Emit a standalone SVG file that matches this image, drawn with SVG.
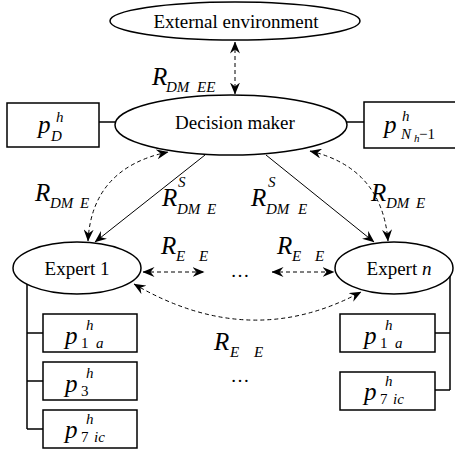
<svg xmlns="http://www.w3.org/2000/svg" width="455" height="451" viewBox="0 0 455 451">
<defs>
<style>
.node{fill:#fff;stroke:#000;stroke-width:1.5}
.box{fill:#fff;stroke:#000;stroke-width:1.5}
.ln{fill:none;stroke:#000;stroke-width:1.5}
.sol{fill:none;stroke:#000;stroke-width:1}
.dash{fill:none;stroke:#000;stroke-width:1;stroke-dasharray:4 3}
.lbl{font-family:"Liberation Serif","Times New Roman",serif;font-size:19px;fill:#000}
.m{font-family:"Liberation Serif","Times New Roman",serif;font-style:italic;font-size:25px;fill:#000}
.s{font-size:15px}
.ss{font-size:11px}
</style>
<marker id="ah" viewBox="0 0 12 10" refX="11.5" refY="5" markerWidth="12" markerHeight="10" markerUnits="userSpaceOnUse" orient="auto-start-reverse">
<path d="M0,0 L12,5 L0,10 L4,5 z" fill="#000"/>
</marker>
</defs>
<rect width="455" height="451" fill="#fff"/>

<g id="connectors">
<path class="dash" d="M235,42 L235,94" marker-start="url(#ah)" marker-end="url(#ah)"/>
<path class="ln" d="M99,122 L115,122"/>
<path class="ln" d="M347,122 L364,122"/>
<path class="sol" d="M205,155 L95,242" marker-end="url(#ah)"/>
<path class="sol" d="M266,155 L374,242" marker-end="url(#ah)"/>
<path class="dash" d="M88,241 Q92,168 168,152" marker-start="url(#ah)" marker-end="url(#ah)"/>
<path class="dash" d="M310,151 Q382,168 388,241" marker-start="url(#ah)" marker-end="url(#ah)"/>
<path class="dash" d="M143,272 L204,272" marker-start="url(#ah)" marker-end="url(#ah)"/>
<path class="dash" d="M272,272 L334,272" marker-start="url(#ah)" marker-end="url(#ah)"/>
<path class="dash" d="M134,284 Q250,352 361,292" marker-start="url(#ah)" marker-end="url(#ah)"/>
<path class="ln" d="M27,284 L27,429 M27,333 L43,333 M27,381 L43,381 M27,429 L43,429"/>
<path class="ln" d="M450,276 L450,390 M435,333 L450,333 M435,390 L450,390"/>
</g>

<g id="external-environment">
<ellipse class="node" cx="235" cy="21" rx="125" ry="19"/>
<text class="lbl" x="236" y="28" text-anchor="middle">External environment</text>
</g>

<g id="decision-maker">
<ellipse class="node" cx="231" cy="125" rx="116" ry="30"/>
<text class="lbl" x="235" y="129" text-anchor="middle">Decision maker</text>
</g>

<g id="expert-1">
<ellipse class="node" cx="77" cy="268" rx="64" ry="26"/>
<text class="lbl" x="77" y="275" text-anchor="middle">Expert 1</text>
</g>

<g id="expert-n">
<ellipse class="node" cx="394" cy="268" rx="59" ry="26"/>
<text class="lbl" x="399" y="275" text-anchor="middle">Expert <tspan font-style="italic">n</tspan></text>
</g>

<g id="p-D">
<rect class="box" x="7" y="103" width="92" height="44"/>
<text class="m"><tspan x="38" y="133">p</tspan><tspan class="s" x="56" y="122">h</tspan><tspan class="s" x="51" y="141">D</tspan></text>
</g>

<g id="p-Nh-1">
<rect class="box" x="364" y="102" width="95" height="46"/>
<text class="m"><tspan x="384" y="133">p</tspan><tspan class="s" x="402" y="121">h</tspan><tspan class="s" x="401" y="139">N</tspan><tspan class="ss" x="414" y="142">h</tspan><tspan class="s" font-style="normal" x="419" y="139">−1</tspan></text>
</g>

<g id="expert1-p1a">
<rect class="box" x="43" y="314" width="94" height="38"/>
<text class="m"><tspan x="65" y="344">p</tspan><tspan class="s" x="86" y="330">h</tspan><tspan class="s" font-style="normal" x="81" y="348">1</tspan><tspan class="s" x="96" y="348">a</tspan></text>
</g>

<g id="expert1-p3">
<rect class="box" x="43" y="362" width="94" height="38"/>
<text class="m"><tspan x="65" y="392">p</tspan><tspan class="s" x="86" y="378">h</tspan><tspan class="s" font-style="normal" x="81" y="396">3</tspan></text>
</g>

<g id="expert1-p7ic">
<rect class="box" x="43" y="410" width="94" height="38"/>
<text class="m"><tspan x="65" y="438">p</tspan><tspan class="s" x="86" y="424">h</tspan><tspan class="s" font-style="normal" x="81" y="442">7</tspan><tspan class="s" x="94" y="442">ic</tspan></text>
</g>

<g id="expertn-p1a">
<rect class="box" x="340" y="314" width="95" height="38"/>
<text class="m"><tspan x="364" y="344">p</tspan><tspan class="s" x="385" y="330">h</tspan><tspan class="s" font-style="normal" x="380" y="348">1</tspan><tspan class="s" x="395" y="348">a</tspan></text>
</g>

<g id="expertn-p7ic">
<rect class="box" x="340" y="372" width="95" height="38"/>
<text class="m"><tspan x="364" y="400">p</tspan><tspan class="s" x="385" y="386">h</tspan><tspan class="s" font-style="normal" x="380" y="404">7</tspan><tspan class="s" x="393" y="404">ic</tspan></text>
</g>

<g id="labels">
<text class="m" font-size="24"><tspan x="152" y="85">R</tspan><tspan class="s" x="166" y="92">DM</tspan><tspan class="s" x="197" y="92">EE</tspan></text>
<text class="m" font-size="24"><tspan x="35" y="201">R</tspan><tspan class="s" x="50" y="208">DM</tspan><tspan class="s" x="80" y="208">E</tspan></text>
<text class="m" font-size="24"><tspan x="162" y="206">R</tspan><tspan class="s" x="178" y="187">S</tspan><tspan class="s" x="177" y="214">DM</tspan><tspan class="s" x="207" y="214">E</tspan></text>
<text class="m" font-size="24"><tspan x="251" y="206">R</tspan><tspan class="s" x="268" y="187">S</tspan><tspan class="s" x="266" y="214">DM</tspan><tspan class="s" x="298" y="214">E</tspan></text>
<text class="m" font-size="24"><tspan x="371" y="201">R</tspan><tspan class="s" x="386" y="208">DM</tspan><tspan class="s" x="416" y="208">E</tspan></text>
<text class="m" font-size="24"><tspan x="161" y="254">R</tspan><tspan class="s" x="176" y="261">E</tspan><tspan class="s" x="199" y="261">E</tspan></text>
<text class="m" font-size="24"><tspan x="277" y="254">R</tspan><tspan class="s" x="292" y="261">E</tspan><tspan class="s" x="315" y="261">E</tspan></text>
<text class="m" font-size="24"><tspan x="214" y="350">R</tspan><tspan class="s" x="230" y="357">E</tspan><tspan class="s" x="254" y="357">E</tspan></text>
<text class="lbl" x="240" y="277" text-anchor="middle">…</text>
<text class="lbl" x="240" y="382" text-anchor="middle">…</text>
</g>
</svg>
